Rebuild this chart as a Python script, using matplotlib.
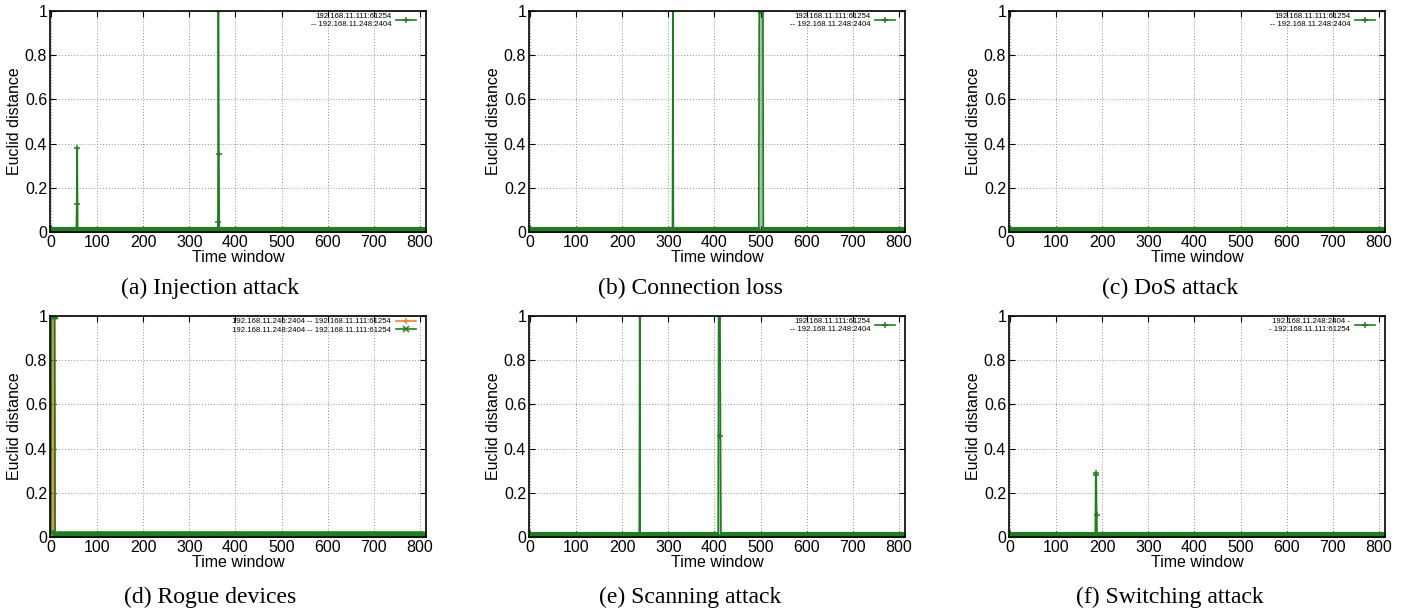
#!/usr/bin/env python
import numpy as np
import matplotlib
matplotlib.use('Agg')
import matplotlib.pyplot as plt

# time windows 0..810; distance sits at a small baseline except the points listed below
t_max = 810
baseline = 0.008
peaks_a = [(0, 0.02), (56, 0.125), (57, 0.38), (362, 0.045), (363, 1.0), (364, 0.355)]
peaks_b = [(0, 0.02), (310, 1.0), (497, 1.0), (498, 1.0), (499, 1.0), (500, 1.0),
           (501, 1.0), (502, 1.0), (503, 1.0), (504, 1.0), (505, 1.0)]
peaks_c = [(0, 0.02)]
peaks_d1 = [(0, 0.0), (6, 1.0), (7, 1.0), (8, 1.0)]
peaks_d2 = [(0, 0.02), (1, 1.0), (2, 1.0), (3, 1.0), (4, 1.0), (5, 1.0),
            (6, 1.0), (7, 1.0), (8, 1.0)]
peaks_e = [(0, 0.02), (238, 1.0), (409, 1.0), (410, 1.0), (411, 1.0), (412, 1.0),
           (413, 0.455)]
peaks_f = [(0, 0.02), (186, 0.28), (187, 0.29), (188, 0.10)]

label_1 = '192.168.11.111:61254\n-- 192.168.11.248:2404'
label_d1 = '192.168.11.246:2404 -- 192.168.11.111:61254'
label_d2 = '192.168.11.248:2404 -- 192.168.11.111:61254'
label_f = '192.168.11.248:2404 -\n- 192.168.11.111:61254'

captions = ['(a) Injection attack', '(b) Connection loss', '(c) DoS attack',
            '(d) Rogue devices', '(e) Scanning attack', '(f) Switching attack']
xticks = [0, 100, 200, 300, 400, 500, 600, 700, 800]
yticks = [0, 0.2, 0.4, 0.6, 0.8, 1]
ytick_labels = ['0', '0.2', '0.4', '0.6', '0.8', '1']

green = '#1c801c'
orange = '#ff7f2a'


def series(peaks):
  t = np.arange(0, t_max + 1)
  y = np.full(len(t), baseline)
  for k, v in peaks:
    y[k] = v
  return t, y


def draw(ax, peaks, color, marker, label, fill):
  t, y = series(peaks)
  if fill:
    ax.fill_between(t, y, 0, color=color, alpha=0.4, lw=0)
  ax.plot(t, y, c=color, lw=1.2, marker=marker, ms=5, mew=1.1, label=label)


plt.rcParams['font.family'] = ['Liberation Sans', 'DejaVu Sans']
fig = plt.figure(figsize=(14.11, 6.12), dpi=100)

W, H = 1411., 612.
lefts = [50, 529, 1009]
bottoms = [232, 537]
cap_x = [210, 690, 1170]
cap_y = [288, 597]

panels = [
  [(peaks_a, green, '+', label_1, True)],
  [(peaks_b, green, '+', label_1, True)],
  [(peaks_c, green, '+', label_1, True)],
  [(peaks_d1, orange, '+', label_d1, False), (peaks_d2, green, 'x', label_d2, True)],
  [(peaks_e, green, '+', label_1, True)],
  [(peaks_f, green, '+', label_f, True)],
]

for i, items in enumerate(panels):
  r, c = divmod(i, 3)
  ax = fig.add_axes([lefts[c] / W, 1 - bottoms[r] / H, 376 / W, 221 / H])
  for peaks, color, marker, label, fill in items:
    draw(ax, peaks, color, marker, label, fill)
  ax.set_xlim(-2, 813)
  ax.set_ylim(0, 1)
  ax.set_xticks(xticks)
  ax.set_yticks(yticks)
  ax.set_yticklabels(ytick_labels)
  ax.tick_params(direction='in', top=True, right=True, length=4, width=0.8,
                 labelsize=11.5, pad=2)
  ax.grid(True, color='#909090', ls=(0, (1, 2)), lw=0.7)
  for s in ax.spines.values():
    s.set_linewidth(1.2)
  ax.set_xlabel('Time window', fontsize=11.5, labelpad=0.5)
  ax.set_ylabel('Euclid distance', fontsize=11.5, labelpad=2)
  leg = ax.legend(loc='upper right', bbox_to_anchor=(1 - 8 / 376., 1),
                  markerfirst=False, frameon=False,
                  fontsize=5.6, handlelength=2.6, borderaxespad=0.0, borderpad=0.25,
                  labelspacing=0.1, handletextpad=0.6)
  for txt in leg.get_texts():
    txt.set_multialignment('right')
  fig.text(cap_x[c] / W, 1 - cap_y[r] / H, captions[i], ha='center', va='center',
           fontsize=17, family='Liberation Serif')

fig.savefig('out.png', dpi=100)
